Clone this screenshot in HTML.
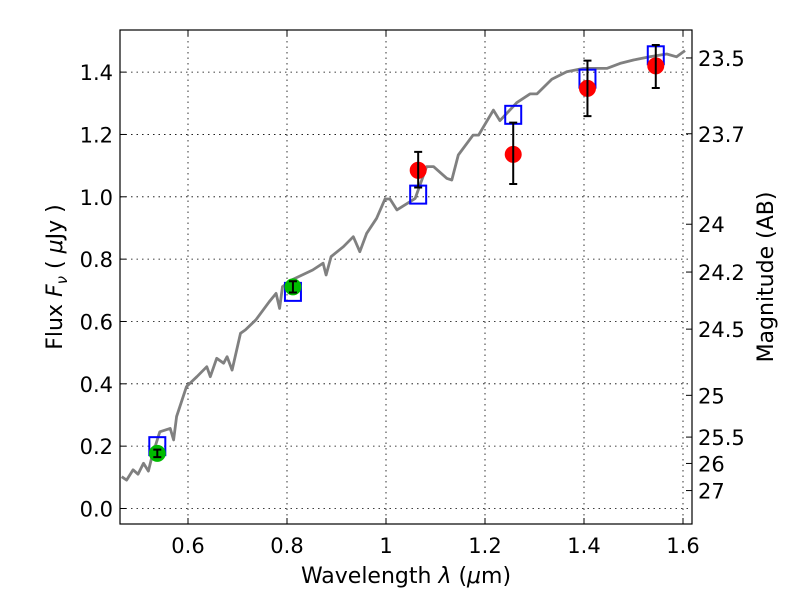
<!DOCTYPE html>
<html><head><meta charset="utf-8"><style>
body{margin:0;background:#fff;}
svg{display:block;font-family:"DejaVu Sans","Liberation Sans",sans-serif;}
</style></head><body>
<svg id="chart" width="800" height="600">
<rect x="0" y="0" width="800" height="600" fill="#fff"/>
<g id="grid"></g>
<g id="spec"></g>
<g id="marks"></g>
<rect x="120" y="30" width="572" height="494" fill="none" stroke="#000" stroke-width="1.2"/>
<g id="axes"></g>
<text x="406" y="583" font-size="22" text-anchor="middle">Wavelength  <tspan font-style="italic">λ</tspan> (<tspan font-style="italic">μ</tspan>m)</text>
<text transform="translate(62,277) rotate(-90)" font-size="22" text-anchor="middle">Flux  <tspan font-style="italic">F</tspan><tspan font-style="italic" font-size="15" dy="5">ν</tspan><tspan dy="-5">  ( </tspan><tspan font-style="italic">μ</tspan>Jy )</text>
<text transform="translate(773,277) rotate(-90)" font-size="22" text-anchor="middle">Magnitude (AB)</text>
</svg>
<script>
const xTicks=[0.6,0.8,1.0,1.2,1.4,1.6];
const xTickLabels=["0.6","0.8","1","1.2","1.4","1.6"];
const yTicks=[0,0.2,0.4,0.6,0.8,1.0,1.2,1.4];
const yTickLabels=["0.0","0.2","0.4","0.6","0.8","1.0","1.2","1.4"];
const magTicks=[23.5,23.7,24,24.2,24.5,25,25.5,26,27];
const magTickLabels=["23.5","23.7","24","24.2","24.5","25","25.5","26","27"];
const specX=[0.466,0.476,0.489,0.499,0.51,0.52,0.527,0.543,0.564,0.571,0.577,0.597,0.618,0.638,0.645,0.658,0.672,0.679,0.689,0.706,0.716,0.737,0.764,0.778,0.785,0.791,0.812,0.852,0.873,0.879,0.889,0.914,0.934,0.947,0.961,0.981,0.998,1.008,1.022,1.059,1.082,1.096,1.123,1.133,1.146,1.176,1.187,1.217,1.230,1.264,1.291,1.305,1.335,1.365,1.399,1.446,1.473,1.5,1.533,1.567,1.587,1.604];
const specY=[0.102,0.091,0.124,0.11,0.145,0.12,0.166,0.246,0.257,0.22,0.295,0.391,0.423,0.455,0.423,0.482,0.466,0.487,0.444,0.562,0.573,0.605,0.663,0.69,0.642,0.712,0.735,0.765,0.787,0.749,0.808,0.84,0.872,0.824,0.883,0.931,0.993,0.993,0.958,0.995,1.097,1.097,1.059,1.054,1.134,1.198,1.198,1.278,1.244,1.302,1.33,1.33,1.377,1.401,1.412,1.412,1.428,1.439,1.449,1.458,1.449,1.469];
const greenX=[0.538,0.812];
const greenY=[0.177,0.711];
const greenErr=[0.012,0.018];
const redX=[1.065,1.257,1.407,1.545];
const redY=[1.085,1.136,1.348,1.42];
const redErrHi=[1.144,1.238,1.437,1.487];
const redErrLo=[1.03,1.041,1.259,1.349];
const modelX=[0.538,0.812,1.065,1.257,1.407,1.545];
const modelY=[0.20,0.695,1.007,1.263,1.379,1.454];

const NS="http://www.w3.org/2000/svg";
function X(v){return 188+(v-0.6)*495;}
function Y(v){return 508.5-v*311.7;}
function mk(tag,attrs,parent){const e=document.createElementNS(NS,tag);for(const k in attrs)e.setAttribute(k,attrs[k]);parent.appendChild(e);return e;}
const grid=document.getElementById('grid'),axes=document.getElementById('axes'),spec=document.getElementById('spec'),marks=document.getElementById('marks');
xTicks.forEach((t,i)=>{
 let g=mk('line',{x1:X(t),x2:X(t),y1:30,y2:524,stroke:'#000','stroke-width':0.8,'stroke-dasharray':'1.5,4'},grid);
 
 let a=mk('line',{x1:X(t),x2:X(t),y1:524,y2:518,stroke:'#000'},axes);
 
 let b=mk('line',{x1:X(t),x2:X(t),y1:30,y2:36,stroke:'#000'},axes);
 
 let l=mk('text',{x:X(t),y:553,'font-size':21,'text-anchor':'middle'},axes);l.textContent=xTickLabels[i];
 
});
yTicks.forEach((t,i)=>{
 let g=mk('line',{x1:120,x2:692,y1:Y(t),y2:Y(t),stroke:'#000','stroke-width':0.8,'stroke-dasharray':'1.5,4'},grid);
 
 let a=mk('line',{x1:120,x2:126,y1:Y(t),y2:Y(t),stroke:'#000'},axes);
 
 let l=mk('text',{x:113,y:Y(t)+8,'font-size':21,'text-anchor':'end'},axes);l.textContent=yTickLabels[i];
 
});
magTicks.forEach((m,i)=>{
 const f=Math.pow(10,(23.9-m)/2.5);const y=Y(f);
 let a=mk('line',{x1:686,x2:692,y1:y,y2:y,stroke:'#000'},axes);
 
 let l=mk('text',{x:698,y:y+8,'font-size':21},axes);l.textContent=magTickLabels[i];
 
});
let d=specX.map((x,i)=>(i?'L':'M')+X(x).toFixed(1)+','+Y(specY[i]).toFixed(1)).join('');
let p=mk('path',{d:d,fill:'none',stroke:'#808080','stroke-width':2.8,'stroke-linejoin':'round'},spec);

modelX.forEach((x,i)=>{
 let r=mk('rect',{x:X(x)-8,y:Y(modelY[i])-9,width:16,height:18,fill:'none',stroke:'#0000ff','stroke-width':2},marks);
 
});
greenX.forEach((x,i)=>{
 let c=mk('circle',{cx:X(x),cy:Y(greenY[i]),r:8,fill:'#00bb00',stroke:'#00bb00'},marks);
 
 const y1=Y(greenY[i]+greenErr[i]),y2=Y(greenY[i]-greenErr[i]),cx=X(x);
 let e=mk('path',{d:`M${cx},${y1}L${cx},${y2}M${cx-4},${y1}L${cx+4},${y1}M${cx-4},${y2}L${cx+4},${y2}`,stroke:'#000','stroke-width':2},marks);
 
});
redX.forEach((x,i)=>{
 let c=mk('circle',{cx:X(x),cy:Y(redY[i]),r:8,fill:'#ff0000',stroke:'#ff0000'},marks);
 
 const y1=Y(redErrHi[i]),y2=Y(redErrLo[i]),cx=X(x);
 let e=mk('path',{d:`M${cx},${y1}L${cx},${y2}M${cx-4},${y1}L${cx+4},${y1}M${cx-4},${y2}L${cx+4},${y2}`,stroke:'#000','stroke-width':2},marks);
 
});
</script>
</body></html>
